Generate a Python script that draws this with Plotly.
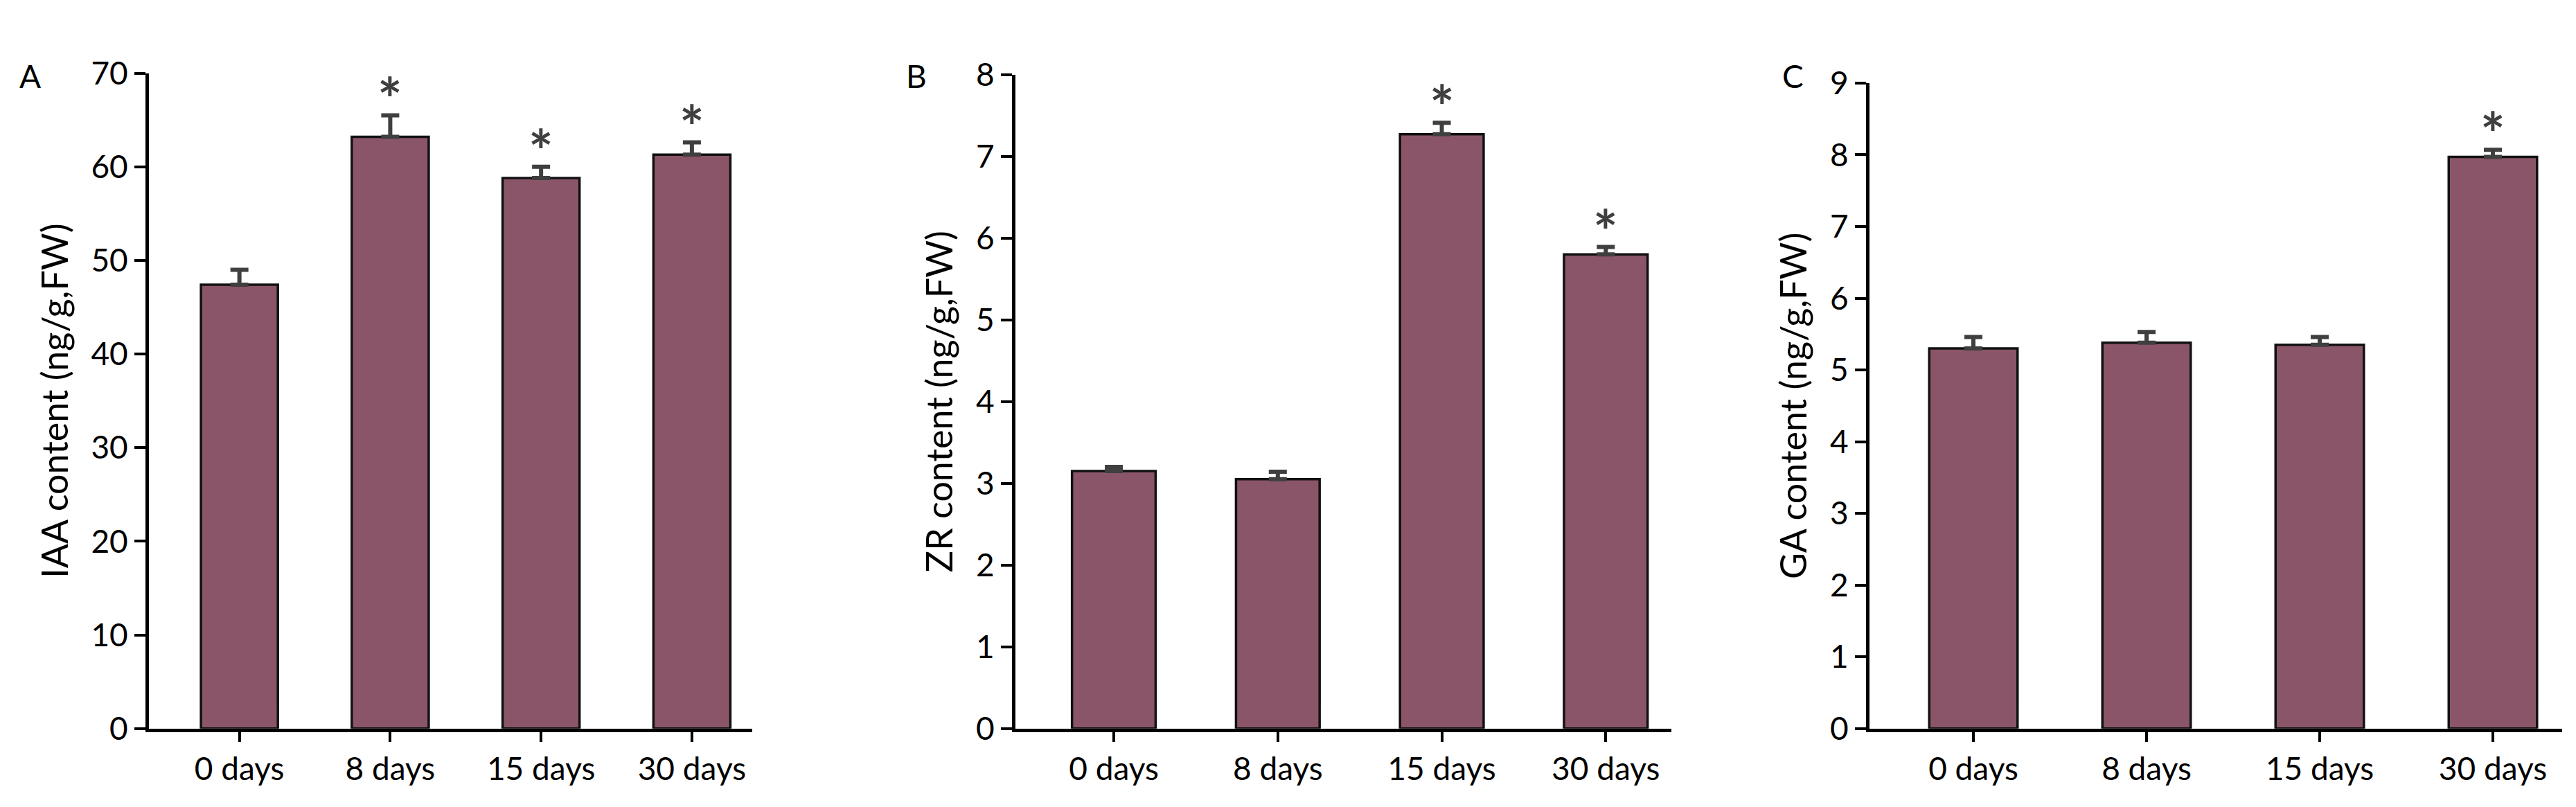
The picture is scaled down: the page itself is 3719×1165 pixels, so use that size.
import plotly.graph_objects as go

categories = ["0 days", "8 days", "15 days", "30 days"]
iaa = [47.4, 63.2, 58.8, 61.3]
iaa_err = [1.6, 2.3, 1.2, 1.3]
zr = [3.15, 3.05, 7.27, 5.80]
zr_err = [0.05, 0.09, 0.14, 0.09]
ga = [5.30, 5.38, 5.35, 7.97]
ga_err = [0.16, 0.15, 0.11, 0.10]
stars_iaa = [False, True, True, True]
stars_zr = [False, False, True, True]
stars_ga = [False, False, False, True]
titles = ["IAA content (ng/g,FW)", "ZR content (ng/g,FW)", "GA content (ng/g,FW)"]
ymax = [70, 8, 9]
letters = ["A", "B", "C"]

W, H = 3719, 1165
xdoms = [(207/W, 1078/W), (1458/W, 2405/W), (2691/W, 3691/W)]
ybot = 1 - 1065/H
ytops = [1 - 72/H, 1 - 74/H, 1 - 87/H]
letter_x = [18/W, 1298/W, 2563/W]

fig = go.Figure()
font = "Lato, Open Sans, sans-serif"
panels = [(iaa, iaa_err, stars_iaa), (zr, zr_err, stars_zr), (ga, ga_err, stars_ga)]
for i, (vals, errs, stars) in enumerate(panels):
    xa = "x" if i == 0 else f"x{i+1}"
    ya = "y" if i == 0 else f"y{i+1}"
    fig.add_trace(go.Bar(
        x=list(range(4)), y=vals, xaxis=xa, yaxis=ya, width=0.51,
        marker=dict(color="#8B5569", line=dict(color="#111111", width=3.5)),
        error_y=dict(type="data", symmetric=False, array=errs,
                     arrayminus=[0]*4, color="#3f3f3f", thickness=6, width=13),
        showlegend=False))
    for j in range(4):
        if stars[j]:
            fig.add_annotation(x=j, y=vals[j] + errs[j], xref=xa, yref=ya,
                               text="<b>*</b>", showarrow=False, yanchor="bottom",
                               yshift=-28, font=dict(size=84, color="#3f3f3f", family=font))
    sfx = "" if i == 0 else str(i+1)
    fig.layout["xaxis" + sfx] = dict(
        domain=xdoms[i], anchor=ya, range=[-0.6, 3.4], tickmode="array",
        tickvals=list(range(4)), ticktext=categories, showline=True,
        linecolor="black", linewidth=5, ticks="outside", ticklen=14,
        tickwidth=4, tickcolor="black", showgrid=False, zeroline=False,
        tickfont=dict(size=46, family=font, color="black"))
    fig.layout["yaxis" + sfx] = dict(
        domain=(ybot, ytops[i]), anchor=xa, range=[0, ymax[i]],
        dtick=10 if i == 0 else 1, showline=True, linecolor="black",
        linewidth=5, ticks="outside", ticklen=16, tickwidth=4,
        tickcolor="black", showgrid=False, zeroline=False,
        title=dict(text=titles[i], font=dict(size=52, family=font, color="black"), standoff=18),
        tickfont=dict(size=46, family=font, color="black"))
    fig.add_annotation(x=letter_x[i], y=1 - 45/H, xref="paper", yref="paper",
                       text=letters[i], showarrow=False, xanchor="left",
                       font=dict(size=46, family=font, color="black"))

fig.update_layout(width=W, height=H, margin=dict(l=0, r=0, t=0, b=0),
                  plot_bgcolor="white", paper_bgcolor="white")
fig.write_html("out.html")
